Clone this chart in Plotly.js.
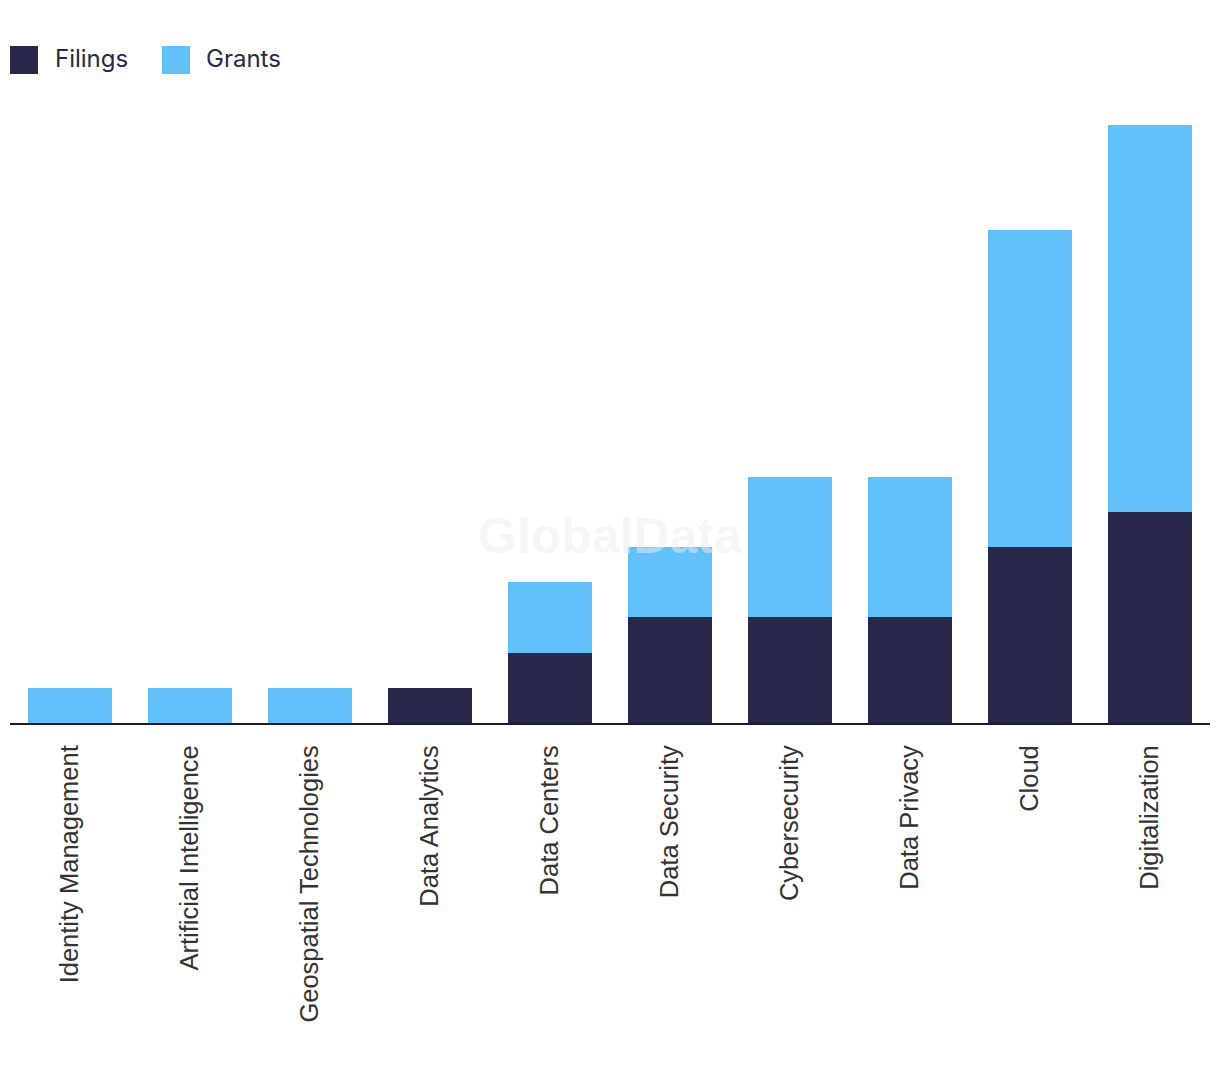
<!DOCTYPE html>
<html>
<head>
<meta charset="utf-8">
<script src="https://cdn.plot.ly/plotly-3.0.1.min.js"></script>
<style>html,body{margin:0;padding:0;background:#fff;}#chart{width:1220px;height:1072px;}</style>
</head>
<body>
<div id="chart"></div>
<script>
const categories = ["Identity Management","Artificial Intelligence","Geospatial Technologies","Data Analytics","Data Centers","Data Security","Cybersecurity","Data Privacy","Cloud","Digitalization"];
const filings = [0,0,0,1,2,3,3,3,5,6];
const grants = [1,1,1,0,2,2,4,4,9,11];
const seriesNames = ["Filings","Grants"];
const colors = ["#27284A","#63C1F9"];

const traces = [
  {type:"bar", name:seriesNames[0], x:categories, y:filings, marker:{color:colors[0]}, hoverinfo:"x+y+name"},
  {type:"bar", name:seriesNames[1], x:categories, y:grants, marker:{color:colors[1]}, hoverinfo:"x+y+name"}
];

const legendFont = {family:"Inter, 'Noto Sans', sans-serif", size:24, color:"#27284A"};
const layout = {
  width:1220, height:1072,
  margin:{l:10, r:10, t:100, b:349},
  barmode:"stack",
  bargap:0.3,
  showlegend:false,
  paper_bgcolor:"#fff", plot_bgcolor:"#fff",
  xaxis:{
    type:"category", showgrid:false, zeroline:false,
    showline:true, linecolor:"#1c1c2e", linewidth:2,
    ticks:"outside", ticklen:10, tickcolor:"rgba(0,0,0,0)",
    tickangle:-90,
    tickfont:{family:"'Liberation Sans', Arial, sans-serif", size:25.5, color:"#333333"}
  },
  yaxis:{range:[0,17.7], visible:false, showgrid:false, zeroline:false, fixedrange:true},
  annotations:[]
};

const plotH = 623, plotW = 1200;
function px(xp){return (xp-10)/plotW;}
function py(yp){return (723-yp)/plotH;}
layout.annotations.push(
  {text:"GlobalData", xref:"paper", yref:"paper", x:px(610), y:py(536), xanchor:"center", yanchor:"middle", showarrow:false,
   font:{family:"'Liberation Sans', Arial, sans-serif", size:50, color:"rgba(238,238,238,0.5)", weight:700}}
);
layout.shapes = [
  {type:"rect", xref:"paper", yref:"paper", x0:px(10), x1:px(38), y0:py(74), y1:py(46), fillcolor:colors[0], line:{width:0}},
  {type:"rect", xref:"paper", yref:"paper", x0:px(162), x1:px(190), y0:py(74), y1:py(46), fillcolor:colors[1], line:{width:0}}
];
layout.annotations.push(
  {text:seriesNames[0], xref:"paper", yref:"paper", x:px(53), y:py(58), xanchor:"left", yanchor:"middle", showarrow:false, font:legendFont},
  {text:seriesNames[1], xref:"paper", yref:"paper", x:px(204), y:py(58), xanchor:"left", yanchor:"middle", showarrow:false, font:legendFont}
);

Plotly.newPlot("chart", traces, layout, {displayModeBar:false, responsive:false});
</script>
</body>
</html>
